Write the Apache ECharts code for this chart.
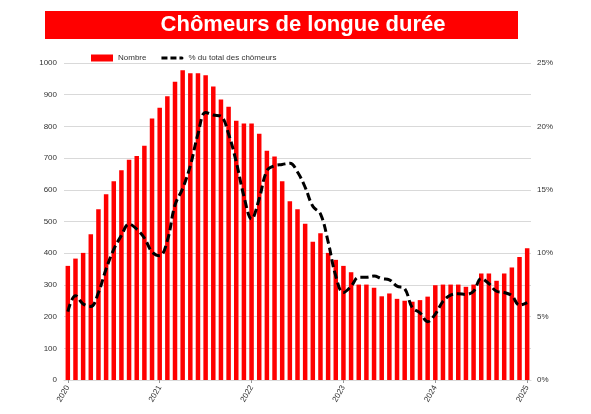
<!DOCTYPE html>
<html>
<head>
<meta charset="utf-8">
<script src="https://cdn.jsdelivr.net/npm/echarts@6/dist/echarts.min.js"></script>
<style>
  html, body { margin: 0; padding: 0; background: #fff; }
  #chart { width: 591px; height: 414px; }
</style>
</head>
<body>
<div id="chart"></div>
<script>
// mois de janvier 2020 à janvier 2025
var months = [];
for (var y = 2020; y <= 2025; y++) {
  for (var m = 1; m <= 12; m++) {
    if (y === 2025 && m > 1) break;
    months.push(m === 1 ? String(y) : y + '-' + m);
  }
}

// nombre de chômeurs de longue durée (milliers)
var nombre = [
  360, 383, 401, 460, 539, 586, 627, 662, 695, 707, 739, 825,
  859, 895, 941, 977, 968, 968, 961, 926, 885, 862, 818, 809,
  809, 777, 723, 705, 627, 564, 539, 493, 436, 463, 401, 379,
  360, 340, 301, 301, 291, 264, 273, 256, 250, 247, 252, 263,
  299, 301, 301, 301, 294, 301, 336, 336, 313, 336, 355, 388,
  416
];

// part dans le total des chômeurs (%)
var partTotal = [
  5.4, 6.65, 6.0, 5.8, 6.9, 8.75, 10.3, 11.4, 12.3, 11.9, 11.2, 10.1,
  9.8, 11.0, 13.8, 15.1, 16.9, 19.4, 21.1, 20.9, 20.8, 19.4, 17.2, 14.5,
  12.7, 14.3, 16.5, 16.9, 17.0, 17.1, 16.4, 15.2, 13.7, 13.1, 10.9, 8.2,
  6.9, 7.4, 8.1, 8.1, 8.2, 8.0, 7.9, 7.4, 7.2, 5.7, 5.3, 4.6,
  5.2, 6.2, 6.7, 6.8, 6.75, 7.0, 8.0, 7.6, 7.0, 6.9, 6.65, 5.9,
  6.1
];

var font = 'Liberation Sans Narrow, Liberation Sans, Arial, sans-serif';

// icône de légende en tirets (les M vides fixent la boîte à 22 x 7)
var dashIcon = 'path://M0,0M22,7M0,2h6v3h-6zM9,2h6v3h-6zM18,2h2.5a1.5,1.5 0 0 1 0,3h-2.5z';

var myChart = echarts.init(document.getElementById('chart'));
myChart.setOption({
  animation: false,
  graphic: [
    {
      type: 'rect',
      shape: { x: 45, y: 11, width: 473, height: 28 },
      style: { fill: '#ff0000' }
    },
    {
      type: 'text',
      x: 303, y: 25,
      style: {
        text: 'Chômeurs de longue durée',
        fill: '#fff',
        font: 'bold 22px Liberation Sans, Arial, sans-serif',
        align: 'center',
        verticalAlign: 'middle'
      }
    }
  ],
  legend: {
    left: 86,
    top: 49,
    itemWidth: 22,
    itemHeight: 7,
    itemGap: 15,
    textStyle: { fontFamily: font, fontSize: 8, color: '#333' },
    data: [
      { name: 'Nombre', icon: 'rect' },
      { name: '% du total des chômeurs', icon: dashIcon }
    ]
  },
  grid: { left: 64, right: 60, top: 63, bottom: 34 },
  xAxis: {
    type: 'category',
    data: months,
    axisLine: { show: true, lineStyle: { color: '#d9d9d9' } },
    axisTick: { show: true, interval: 11, length: 3, alignWithLabel: true, lineStyle: { color: '#999' } },
    axisLabel: {
      interval: 11,
      rotate: 60,
      margin: 6,
      fontFamily: font,
      fontSize: 8,
      color: '#333',
      formatter: function (v) { return v.slice(0, 4); }
    }
  },
  yAxis: [
    {
      type: 'value',
      min: 0, max: 1000, interval: 100,
      axisLine: { show: false },
      axisTick: { show: false },
      splitLine: { lineStyle: { color: '#d9d9d9', width: 1 } },
      axisLabel: { fontFamily: font, fontSize: 8, color: '#333', margin: 7, formatter: function (v) { return String(v); } }
    },
    {
      type: 'value',
      min: 0, max: 25, interval: 5,
      axisLine: { show: false },
      axisTick: { show: false },
      splitLine: { show: false },
      axisLabel: { fontFamily: font, fontSize: 8, color: '#333', margin: 6, formatter: '{value}%' }
    }
  ],
  series: [
    {
      name: 'Nombre',
      type: 'bar',
      data: nombre,
      barWidth: 4.5,
      itemStyle: { color: '#ff0000' }
    },
    {
      name: '% du total des chômeurs',
      type: 'line',
      yAxisIndex: 1,
      data: partTotal,
      smooth: 0.4,
      symbol: 'none',
      itemStyle: { color: '#000' },
      lineStyle: { color: '#000', width: 3, type: [8, 4] }
    }
  ]
});
</script>
</body>
</html>
